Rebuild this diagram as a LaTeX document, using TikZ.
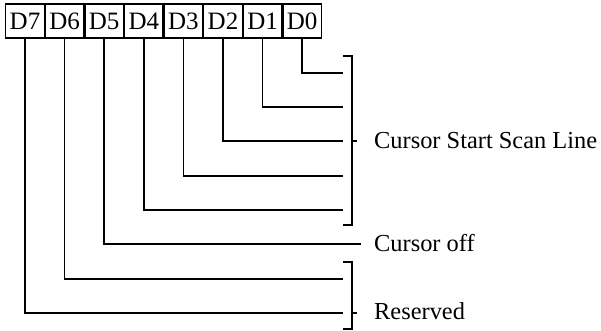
\documentclass[tikz,border=0pt]{standalone}
\usepackage{fontspec}
\setmainfont{Liberation Serif}
\begin{document}
\begin{tikzpicture}[x=1pt,y=-1pt,
  bitbox/.style={draw,line width=1.4pt,minimum width=38.6pt,minimum height=34pt,inner sep=0pt,font=\fontsize{25}{28}\selectfont},
  wire/.style={line width=1.7pt},
  lbl/.style={anchor=base west,inner sep=0pt,font=\fontsize{24.4}{28}\selectfont}]
\useasboundingbox (0,0) rectangle (601,331);
\foreach \i in {0,...,7}{
  \pgfmathsetmacro{\xx}{25+39.6*(7-\i)}
  \node[bitbox] (b\i) at (\xx,21) {D\i};
}
\coordinate (e0) at (343,73);
\coordinate (e1) at (343,107);
\coordinate (e2) at (343,141);
\coordinate (e3) at (343,176);
\coordinate (e4) at (343,210);
\coordinate (e5) at (361,244);
\coordinate (e6) at (343,279);
\coordinate (e7) at (343,313);
\foreach \i in {0,...,7}{
  \draw[wire] (b\i.south) |- (e\i);
}
% bracket for Cursor Start Scan Line
\coordinate (c1t) at (343,56);
\coordinate (c1b) at (343,225);
\coordinate (c1m) at (357,141);
\draw[wire] (c1t) -- (352,56) -- (352,225) -- (c1b);
\draw[wire] (352,141) -- (c1m);
\node[lbl] (t1) at (374,148) {Cursor Start Scan Line};
\node[lbl] (t2) at (374,251) {Cursor off};
% bracket for Reserved
\coordinate (c2t) at (343,262);
\coordinate (c2b) at (343,329);
\coordinate (c2m) at (357,313);
\draw[wire] (c2t) -- (352,262) -- (352,329) -- (c2b);
\draw[wire] (352,313) -- (c2m);
\node[lbl] (t3) at (374,319) {Reserved};
\end{tikzpicture}
\end{document}
